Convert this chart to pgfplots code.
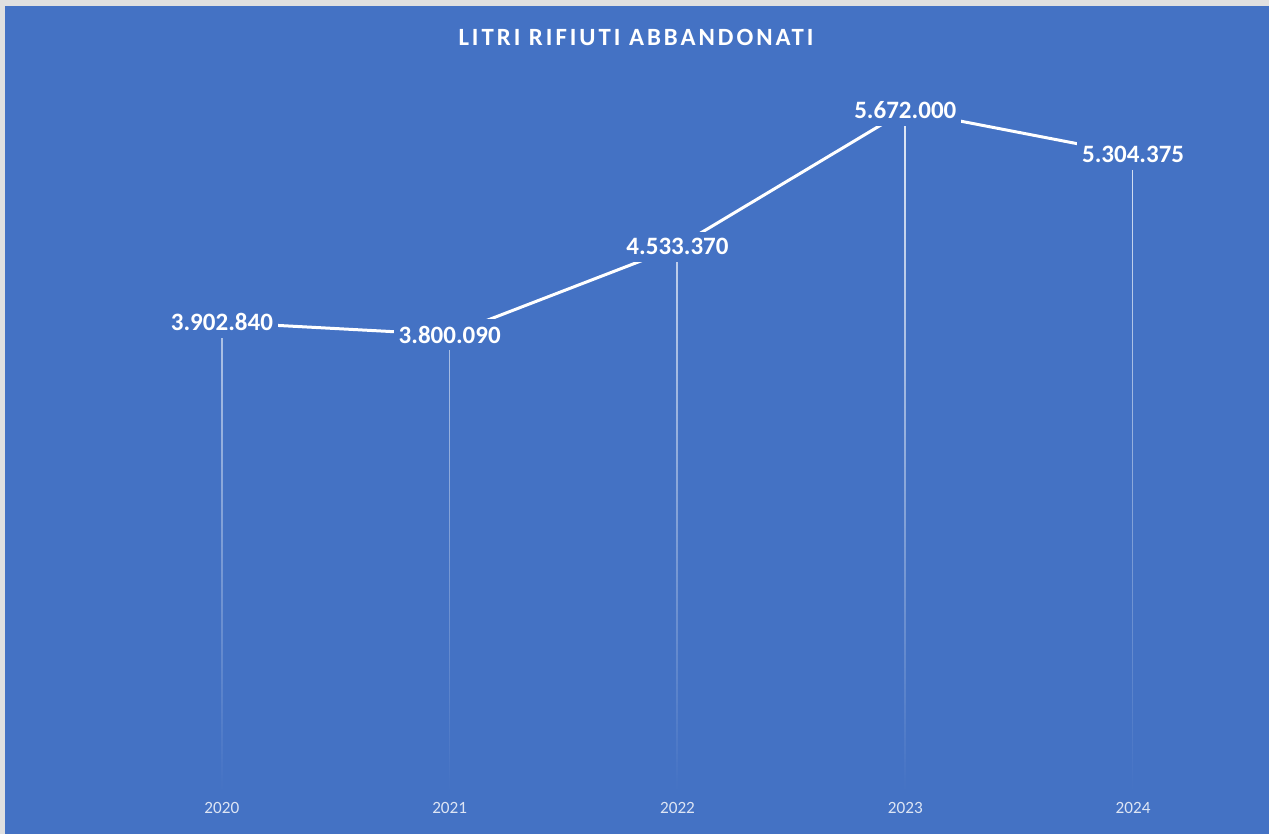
\documentclass[border=0pt]{standalone}
\usepackage{fontspec}
\setmainfont{Carlito}
\newfontfamily\titlefont[LetterSpace=12]{Carlito}
\usepackage{pgfplots}
\pgfplotsset{compat=1.18}
\usetikzlibrary{fadings}
\definecolor{bg}{RGB}{68,114,196}
\definecolor{frame}{RGB}{224,224,224}
\begin{document}
\begin{tikzpicture}
% background of the chart area (1px = 0.5pt)
\fill[frame] (0,0) rectangle (634.5pt,417pt);
\fill[bg] (2.5pt,0) rectangle (634.5pt,414pt);

\begin{axis}[
    at={(54pt,22pt)}, anchor=south west,
    scale only axis,
    width=569.5pt, height=371.4pt,
    xmin=-0.5, xmax=4.5,
    ymin=0, ymax=6.2e6,
    axis lines=none,
    xtick={0,1,2,3,4},
    xticklabels={2020,2021,2022,2023,2024},
    ytick=\empty,
    clip=false,
]
% drop lines
\addplot[ycomb, draw=white, opacity=0.85, line width=0.75pt, no markers,
    path fading=south] coordinates {
    (0,3902840) (1,3800090) (2,4533370) (3,5672000) (4,5304375)
};
% main line with value labels
\addplot[white, line width=1.5pt, no markers,
    point meta=explicit symbolic,
    nodes near coords,
    every node near coord/.style={anchor=center, fill=bg, text=white,
        font=\fontsize{12.5pt}{14pt}\selectfont\bfseries,
        inner xsep=2.5pt, inner ysep=3.5pt},
] coordinates {
    (0,3902840) [3.902.840]
    (1,3800090) [3.800.090]
    (2,4533370) [4.533.370]
    (3,5672000) [5.672.000]
    (4,5304375) [5.304.375]
};
% year labels
\foreach \i/\yr in {0/2020,1/2021,2/2022,3/2023,4/2024}{
    \edef\tmp{\noexpand\node[text=white!82!bg, font=\noexpand\fontsize{8.6pt}{10pt}\noexpand\selectfont, anchor=center]
        at (axis cs:\i,0) [yshift=-9pt] {\yr};}
    \tmp
}
\end{axis}

\node[text=white, font=\titlefont\fontsize{12.4pt}{14pt}\selectfont\bfseries, anchor=center]
    at (318pt,398.5pt) {LITRI RIFIUTI ABBANDONATI};

\pgfresetboundingbox
\useasboundingbox (0,0) rectangle (634.5pt,417pt);
\end{tikzpicture}
\end{document}
